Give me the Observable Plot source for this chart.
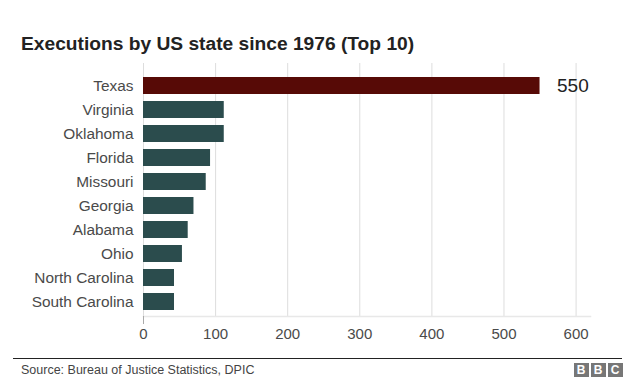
<!DOCTYPE html>
<html>
<head>
<meta charset="utf-8">
<script src="https://cdn.jsdelivr.net/npm/d3@7"></script>
<script src="https://cdn.jsdelivr.net/npm/@observablehq/plot@0.6"></script>
<style>
  html, body { margin: 0; padding: 0; background: #fff; }
  #wrap { position: relative; width: 631px; height: 385px; overflow: hidden; font-family: "Liberation Sans", Arial, sans-serif; }
  #title { position: absolute; left: 21px; top: 33.5px; font-size: 19.2px; line-height: 19px; font-weight: bold; color: #222; white-space: nowrap; }
  #chart { position: absolute; left: 0; top: 0; }
  #rule { position: absolute; left: 13px; top: 357.5px; width: 609px; height: 1.5px; background: #222; }
  #source { position: absolute; left: 21px; top: 362.7px; font-size: 12.5px; line-height: 14px; color: #444; white-space: nowrap; }
  .bbc { position: absolute; top: 363px; width: 15px; height: 14px; background: #777; color: #fff; font-weight: bold; font-size: 12px; line-height: 14px; text-align: center; }
</style>
</head>
<body>
<div id="wrap">
  <div id="chart"></div>
  <div id="title"></div>
  <div id="rule"></div>
  <div id="source"></div>
  <div class="bbc" style="left:573.5px">B</div>
  <div class="bbc" style="left:590.5px">B</div>
  <div class="bbc" style="left:607.5px">C</div>
</div>
<script>
const titleText = "Executions by US state since 1976 (Top 10)";
const sourceText = "Source: Bureau of Justice Statistics, DPIC";
const states = ["Texas", "Virginia", "Oklahoma", "Florida", "Missouri", "Georgia", "Alabama", "Ohio", "North Carolina", "South Carolina"];
const executions = [550, 112, 112, 93, 87, 70, 62, 54, 43, 43];
const xTicks = [0, 100, 200, 300, 400, 500, 600];
const highlight = "Texas";

document.getElementById("title").textContent = titleText;
document.getElementById("source").textContent = sourceText;

const data = states.map((s, i) => ({state: s, value: executions[i]}));

const chart = Plot.plot({
  width: 631,
  height: 345,
  marginTop: 63,
  marginBottom: 29,
  marginLeft: 143,
  marginRight: 41,
  style: {fontFamily: "Liberation Sans, Arial, sans-serif", background: "transparent"},
  x: {domain: [0, 620]},
  y: {domain: states, paddingInner: 0.3, paddingOuter: 0.15, insetTop: 7.75, insetBottom: 0.25},
  marks: [
    Plot.gridX(xTicks, {stroke: "#dddddd", strokeOpacity: 1}),
    Plot.frame({anchor: "bottom", stroke: "#e8e8e8", strokeWidth: 1.5}),
    Plot.axisX({ticks: [0], tickSize: 8, stroke: "#aaaaaa", tickFormat: () => "", label: null}),
    Plot.axisX({ticks: xTicks, tickSize: 0, tickPadding: 12, fontSize: 15, fill: "#4a4a4a", label: null}),
    Plot.axisY({tickSize: 0, tickPadding: 10, fontSize: 15.4, fill: "#4a4a4a", label: null}),
    Plot.barX(data, {x: "value", y: "state", fill: d => d.state === highlight ? "#570a06" : "#2b4c4d"}),
    Plot.text(data.filter(d => d.state === highlight), {x: "value", y: "state", text: d => String(d.value), dx: 17, textAnchor: "start", fontSize: 19, fill: "#222"})
  ]
});
document.getElementById("chart").appendChild(chart);
</script>
</body>
</html>
